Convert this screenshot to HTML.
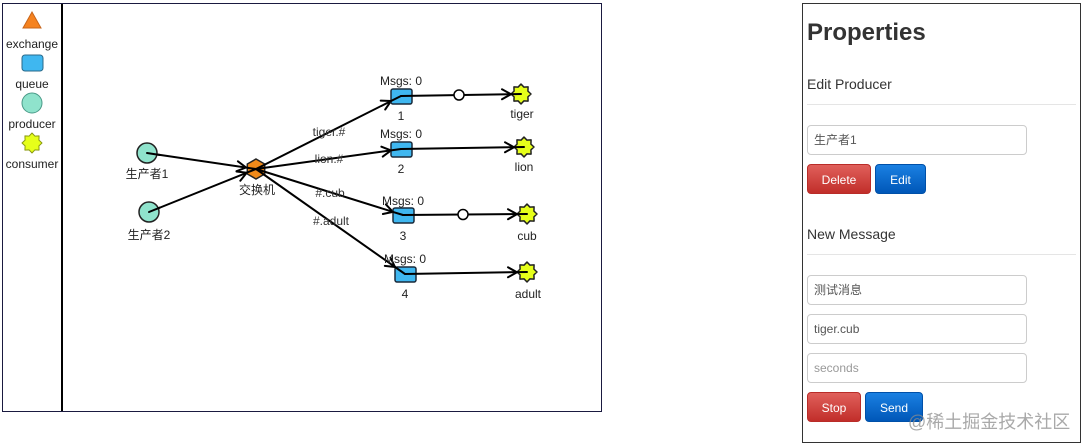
<!DOCTYPE html>
<html><head><meta charset="utf-8">
<style>
html,body{margin:0;padding:0;background:#fff;width:1086px;height:445px;overflow:hidden;}
body{position:relative;font-family:"Liberation Sans","Noto Sans CJK SC",sans-serif;}
svg{position:absolute;left:0;top:0;}
.panel{position:absolute;left:802px;top:3px;width:277px;height:438px;border:1px solid #333;box-sizing:content-box;}
.abs{position:absolute;}
h1{position:absolute;margin:0;left:807px;top:18px;font-size:24px;font-weight:bold;color:#333;font-family:"Liberation Sans",sans-serif;line-height:30px;}
.sub{position:absolute;left:807px;font-size:14px;color:#333;line-height:16px;}
.hr{position:absolute;left:807px;width:269px;height:1px;background:#e5e5e5;}
.inp{position:absolute;left:807px;width:218px;height:28px;border:1px solid #ccc;border-radius:4px;box-sizing:content-box;font-size:12px;color:#555;line-height:28px;padding-left:6px;width:212px;font-family:"Liberation Sans","Noto Sans CJK SC",sans-serif;}
.btn{position:absolute;height:30px;border-radius:4px;color:#fff;font-size:12px;line-height:30px;text-align:center;box-sizing:border-box;}
.red{background:linear-gradient(#e0605b,#c12e2a);border:1px solid #b92c28;}
.blue{background:linear-gradient(#1a80e2,#0057b8);border:1px solid #0050a8;}
.wm{position:absolute;left:908px;top:408px;font-size:18px;color:rgba(140,140,140,0.75);font-family:"Liberation Sans","Noto Sans CJK SC",sans-serif;white-space:nowrap;}
</style></head><body>
<svg width="1086" height="445" viewBox="0 0 1086 445" xmlns="http://www.w3.org/2000/svg">
<defs>
<polygon id="star" points="0,-10 2.87,-6.93 7.07,-7.07 6.93,-2.87 10,0 6.93,2.87 7.07,7.07 2.87,6.93 0,10 -2.87,6.93 -7.07,7.07 -6.93,2.87 -10,0 -6.93,-2.87 -7.07,-7.07 -2.87,-6.93"/>
</defs>
<!-- frame -->
<rect x="2.5" y="3.5" width="599" height="408" fill="#fff" stroke="#1a1a40" stroke-width="1"/>
<line x1="62" y1="4" x2="62" y2="411" stroke="#000" stroke-width="2"/>

<!-- legend -->
<g font-family="Liberation Sans, sans-serif" font-size="12" fill="#222" text-anchor="middle">
<polygon points="23,28 41,28 32,12" fill="#f5821f" stroke="#c8651a" stroke-width="1"/>
<text x="32" y="48">exchange</text>
<rect x="22" y="55" width="21" height="16" rx="3" fill="#3fb7f0" stroke="#2a6a8a" stroke-width="1"/>
<text x="32" y="88">queue</text>
<circle cx="32" cy="103" r="10" fill="#8fe3cc" stroke="#4a9a88" stroke-width="1"/>
<text x="32" y="128">producer</text>
<use href="#star" x="32" y="143" fill="#e6ff1a" stroke="#8a9a10" stroke-width="1" stroke-linejoin="round"/>
<text x="32" y="168">consumer</text>
</g>

<!-- edges -->
<g stroke="#000" stroke-width="2" fill="none" stroke-linecap="round" stroke-linejoin="round">
<line x1="147" y1="153" x2="256" y2="169"/>
<polyline points="236.5,171.2 246.1,167.5 237.9,161.3"/>
<line x1="149" y1="212" x2="256" y2="169"/>
<polyline points="240.3,180.7 246.7,172.7 236.5,171.5"/>

<line x1="256" y1="169" x2="401" y2="96"/>
<polyline points="385.2,109.5 391,101 380.7,100.6"/>
<line x1="256" y1="169" x2="401" y2="149"/>
<polyline points="382.8,156.6 391,150.4 381.4,146.7"/>
<line x1="256" y1="169" x2="403" y2="215"/>
<polyline points="382.9,214 393,211.9 385.9,204.4"/>
<line x1="256" y1="169" x2="405" y2="274"/>
<polyline points="384.8,265.9 395,267 390.5,257.7"/>
</g>

<!-- exchange -->
<polygon points="256,159 264.7,164 264.7,174 256,179 247.3,174 247.3,164" fill="#f08a1a" stroke="#222" stroke-width="1.5"/>
<!-- producers -->
<circle cx="147" cy="153" r="10" fill="#8fe3cc" stroke="#222" stroke-width="1.5"/>
<circle cx="149" cy="212" r="10" fill="#8fe3cc" stroke="#222" stroke-width="1.5"/>
<!-- queues -->
<rect x="391" y="89" width="21" height="15" rx="2" fill="#3fb7f0" stroke="#1a2a3a" stroke-width="1.5"/>
<rect x="391" y="142" width="21" height="15" rx="2" fill="#3fb7f0" stroke="#1a2a3a" stroke-width="1.5"/>
<rect x="393" y="208" width="21" height="15" rx="2" fill="#3fb7f0" stroke="#1a2a3a" stroke-width="1.5"/>
<rect x="395" y="267" width="21" height="15" rx="2" fill="#3fb7f0" stroke="#1a2a3a" stroke-width="1.5"/>
<!-- consumers -->
<use href="#star" x="521" y="94" fill="#e6ff1a" stroke="#222" stroke-width="1.5" stroke-linejoin="round"/>
<use href="#star" x="524" y="147" fill="#e6ff1a" stroke="#222" stroke-width="1.5" stroke-linejoin="round"/>
<use href="#star" x="527" y="214" fill="#e6ff1a" stroke="#222" stroke-width="1.5" stroke-linejoin="round"/>
<use href="#star" x="527" y="272" fill="#e6ff1a" stroke="#222" stroke-width="1.5" stroke-linejoin="round"/>

<!-- lines drawn over nodes (to centers) -->
<g stroke="#000" stroke-width="2" fill="none" stroke-linecap="round" stroke-linejoin="round">
<line x1="147" y1="153" x2="160" y2="155"/>
<line x1="149" y1="212" x2="160" y2="207.6"/>
<line x1="247" y1="167.7" x2="256" y2="169"/>
<line x1="247" y1="172.6" x2="256" y2="169"/>
<line x1="256" y1="169" x2="265" y2="164.5"/>
<line x1="256" y1="169" x2="265" y2="167.8"/>
<line x1="256" y1="169" x2="265" y2="171.8"/>
<line x1="256" y1="169" x2="265" y2="175.3"/>
<line x1="391" y1="101" x2="401" y2="96"/>
<line x1="391" y1="150.4" x2="401" y2="149"/>
<line x1="393" y1="211.9" x2="403" y2="215"/>
<line x1="395" y1="267" x2="405" y2="274"/>

<line x1="401" y1="96" x2="521" y2="94"/>
<polyline points="502,89.3 511,94.2 502,99.3"/>
<line x1="401" y1="149" x2="524" y2="147"/>
<polyline points="505,142.3 514,147.2 505,152.3"/>
<line x1="403" y1="215" x2="527" y2="214"/>
<polyline points="508,209.2 517,214.1 508,219.2"/>
<line x1="405" y1="274" x2="527" y2="272"/>
<polyline points="508,267.3 517,272.2 508,277.3"/>
</g>
<circle cx="459" cy="95" r="5" fill="#fff" stroke="#000" stroke-width="1.5"/>
<circle cx="463" cy="214.5" r="5" fill="#fff" stroke="#000" stroke-width="1.5"/>

<!-- labels -->
<g font-family="Liberation Sans, Noto Sans CJK SC, sans-serif" font-size="12" fill="#222" text-anchor="middle">
<text x="147" y="178">生产者1</text>
<text x="149" y="239">生产者2</text>
<text x="257" y="194">交换机</text>
<text x="401" y="85">Msgs: 0</text>
<text x="401" y="120">1</text>
<text x="401" y="138">Msgs: 0</text>
<text x="401" y="173">2</text>
<text x="403" y="205">Msgs: 0</text>
<text x="403" y="240">3</text>
<text x="405" y="263">Msgs: 0</text>
<text x="405" y="298">4</text>
<text x="522" y="118">tiger</text>
<text x="524" y="171">lion</text>
<text x="527" y="240">cub</text>
<text x="528" y="298">adult</text>
<g fill="#333">
<text x="329" y="136">tiger.#</text>
<text x="329" y="163">lion.#</text>
<text x="330" y="197">#.cub</text>
<text x="331" y="225">#.adult</text>
</g>
</g>
</svg>

<div class="panel"></div>
<h1>Properties</h1>
<div class="sub" style="top:76px;">Edit Producer</div>
<div class="hr" style="top:104px;"></div>
<div class="inp" style="top:125px;">生产者1</div>
<div class="btn red" style="left:807px;top:164px;width:64px;">Delete</div>
<div class="btn blue" style="left:875px;top:164px;width:51px;">Edit</div>
<div class="sub" style="top:226px;">New Message</div>
<div class="hr" style="top:254px;"></div>
<div class="inp" style="top:275px;">测试消息</div>
<div class="inp" style="top:314px;">tiger.cub</div>
<div class="inp" style="top:353px;color:#999;">seconds</div>
<div class="btn red" style="left:807px;top:392px;width:54px;">Stop</div>
<div class="btn blue" style="left:865px;top:392px;width:58px;">Send</div>
<div class="wm">@稀土掘金技术社区</div>
</body></html>
